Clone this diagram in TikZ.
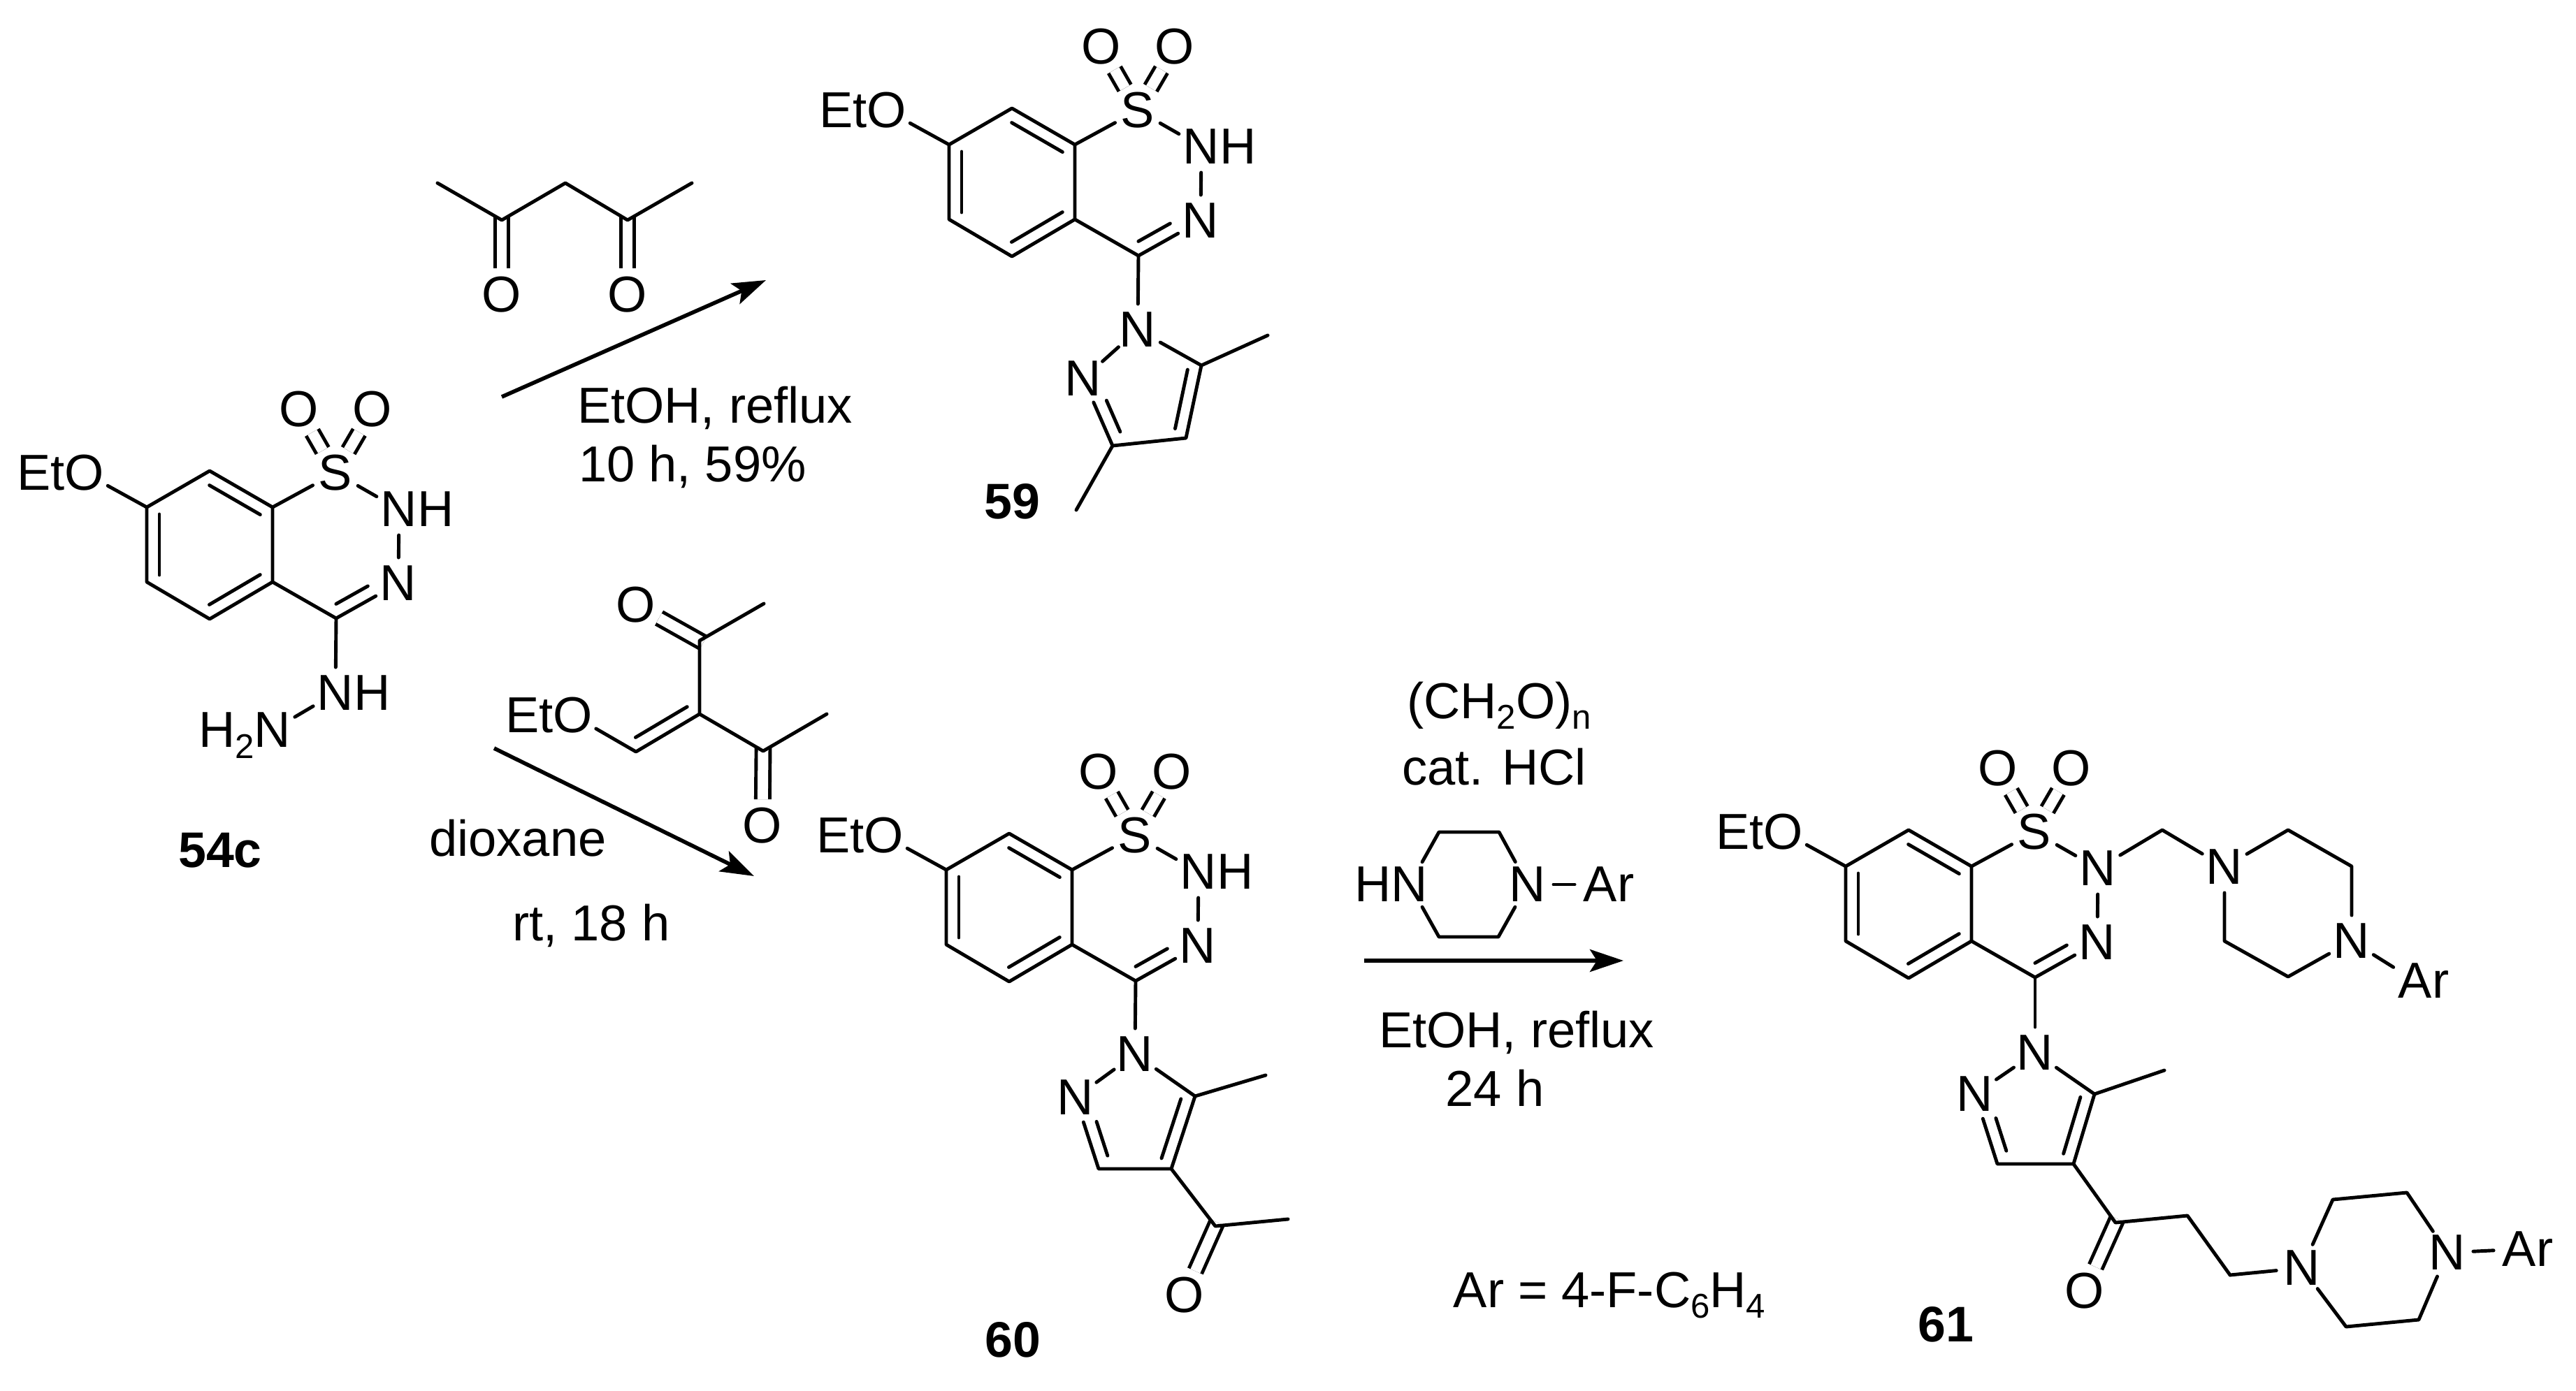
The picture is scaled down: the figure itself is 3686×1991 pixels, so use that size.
\documentclass[tikz,border=0pt]{standalone}
\usepackage{fontspec}
\setmainfont{Liberation Sans}
\usetikzlibrary{calc,arrows.meta}

\newcommand{\low}[1]{\smash{\raisebox{-2.2pt}{\fontsize{7}{8}\selectfont #1}}}

% second line of a double bond, on the left of the way from #2 to #3
\newcommand{\innerbond}[3][]{%
\draw[shorten <=0.05cm,shorten >=0.05cm,#1] ($(#2)!0.09cm!90:(#3)$)--($(#3)!0.09cm!-90:(#2)$);}

% the ring system that all four products share
\newcommand{\ringsystem}[4]{%
\begin{scope}[shift={(#2,#3)},name prefix=#1]
\coordinate (Ca) at (-180,0);
\coordinate (Cb) at (-90,-52);
\coordinate (Cc) at (0,0);
\coordinate (Cd) at (0,107);
\coordinate (Ce) at (-90,160);
\coordinate (Cf) at (-180,107);
\coordinate (C4) at (91,159);
\node[atom] (S) at (90,-49) {S};
\node[atom] (N2) at (181,3) {#4};
\node[atom] (N3) at (180,109) {N};
\node[atom] (O1) at (38,-140) {O};
\node[atom] (O2) at (143,-140) {O};
\node[atom] (OEt) at (-269,-49) {\llap{Et}O};
\draw (Ca)--(Cb)--(Cc)--(Cd)--(Ce)--(Cf)--cycle;
\innerbond{Ca}{Cf}
\innerbond{Ce}{Cd}
\innerbond{Cc}{Cb}
\draw (Cc)--(S);
\draw (S)--(N2);
\draw (N2)--(N3);
\draw (N3)--(C4);
\innerbond[shorten >=0.2cm]{C4}{N3}
\draw (C4)--(Cd);
\draw (OEt)--(Ca);
\draw[dblbond] (S)--(O1);
\draw[dblbond] (S)--(O2);
\end{scope}}

\tikzset{
atom/.style={circle,inner sep=0pt,outer sep=0pt,minimum size=0.37cm},
txt/.style={inner sep=0pt,outer sep=0pt,anchor=base},
cmpd/.style={txt,font=\fontsize{10.2}{12}\selectfont\bfseries},
dblbond/.style={double,double distance=0.075cm,line cap=butt},
ketobond/.style={dblbond,shorten <=-0.03cm},
rxn/.style={-{Stealth[length=0.24cm,width=0.16cm,inset=0.05cm]},line width=0.8pt,line cap=butt}
}

\begin{document}
\begin{tikzpicture}[x=0.005cm,y=-0.005cm,line width=0.7pt,line cap=round,line join=round,font=\fontsize{10.3}{12}\selectfont]
\useasboundingbox (0,0) rectangle (3686,1991);

% 54c
\ringsystem{a}{390}{726}{N\rlap{H}}
\node[atom] (aNH) at (480,992) {N\rlap{H}};
\node[atom] (aNHH) at (390,1045) {\llap{\smash{H\low{2}}}N};
\draw (aC4)--(aNH);
\draw (aNH)--(aNHH);
\node[cmpd] (a54) at (315,1241) {54c};

% 59
\ringsystem{b}{1538}{207}{N\rlap{H}}
\node[atom] (bPz1) at (1628,472) {N};
\node[atom] (bPz2) at (1550,542) {N};
\coordinate (bPz5) at (1719,523);
\coordinate (bPz4) at (1697,627);
\coordinate (bPz3) at (1592,638);
\coordinate (bMe5) at (1814,480);
\coordinate (bMe3) at (1540,730);
\draw (bC4)--(bPz1);
\draw (bPz1)--(bPz2);
\draw (bPz2)--(bPz3)--(bPz4)--(bPz5)--(bPz1);
\innerbond{bPz4}{bPz5}
\innerbond[shorten <=0.21cm,shorten >=0.07cm]{bPz2}{bPz3}
\draw (bPz5)--(bMe5);
\draw (bPz3)--(bMe3);
\node[cmpd] (b59) at (1448,742) {59};

% 60
\ringsystem{c}{1534}{1245}{N\rlap{H}}
\node[atom] (cPz1) at (1624,1509) {N};
\node[atom] (cPz2) at (1539,1571) {N};
\node[atom] (cO) at (1695,1854) {O};
\coordinate (cPz5) at (1710,1569);
\coordinate (cPz4) at (1676,1673);
\coordinate (cPz3) at (1572,1673);
\coordinate (cMe5) at (1811,1539);
\coordinate (cCO) at (1739,1755);
\coordinate (cMe) at (1843,1745);
\draw[ketobond] (cCO)--(cO);
\draw (cC4)--(cPz1);
\draw (cPz1)--(cPz2);
\draw (cPz2)--(cPz3)--(cPz4)--(cPz5)--(cPz1);
\innerbond{cPz4}{cPz5}
\innerbond[shorten <=0.21cm,shorten >=0.07cm]{cPz2}{cPz3}
\draw (cPz5)--(cMe5);
\draw (cPz4)--(cCO)--(cMe);
\node[cmpd] (c60) at (1449,1942) {60};

% 61
\ringsystem{d}{2821}{1240}{N}
\node[atom] (dPz1) at (2912,1507) {N};
\node[atom] (dPz2) at (2826,1566) {N};
\node[atom] (dO) at (2983,1848) {O};
\coordinate (dPz5) at (2997,1566);
\coordinate (dPz4) at (2967,1666);
\coordinate (dPz3) at (2858,1666);
\coordinate (dMe5) at (3097,1532);
\coordinate (dCO) at (3027,1750);
\coordinate (dCH2a) at (3130,1740);
\coordinate (dCH2b) at (3191,1825);
\draw[ketobond] (dCO)--(dO);
\draw (dC4)--(dPz1);
\draw (dPz1)--(dPz2);
\draw (dPz2)--(dPz3)--(dPz4)--(dPz5)--(dPz1);
\innerbond{dPz4}{dPz5}
\innerbond[shorten <=0.21cm,shorten >=0.07cm]{dPz2}{dPz3}
\draw (dPz5)--(dMe5);
\draw (dPz4)--(dCO)--(dCH2a)--(dCH2b);
% piperazine on the chain
\node[atom] (eN1) at (3294,1815) {N};
\node[atom] (eN4) at (3502,1793) {N};
\node[atom] (eAr) at (3605,1788) {A\rlap{r}};
\coordinate (eC2) at (3338,1717);
\coordinate (eC3) at (3444,1707);
\coordinate (eC5) at (3461,1889);
\coordinate (eC6) at (3357,1899);
\draw (dCH2b)--(eN1);
\draw (eN1)--(eC2)--(eC3)--(eN4);
\draw (eN4)--(eC5)--(eC6)--(eN1);
\draw (eN4)--(eAr);
% piperazine on the ring nitrogen
\coordinate (fCH2) at (3094,1188);
\node[atom] (fN1) at (3183,1241) {N};
\node[atom] (fN4) at (3365,1347) {N};
\node[atom] (fAr) at (3456,1404) {A\rlap{r}};
\coordinate (fC2) at (3274,1188);
\coordinate (fC3) at (3365,1240);
\coordinate (fC5) at (3274,1398);
\coordinate (fC6) at (3183,1347);
\draw (dN2)--(fCH2)--(fN1);
\draw (fN1)--(fC2)--(fC3)--(fN4);
\draw (fN4)--(fC5)--(fC6)--(fN1);
\draw (fN4)--(fAr);
\node[cmpd] (d61) at (2784,1920) {61};

% acetylacetone
\coordinate (gMe1) at (626,262);
\coordinate (gC2) at (718,315);
\coordinate (gC3) at (809,262);
\coordinate (gC4) at (898,315);
\coordinate (gMe5) at (990,262);
\node[atom] (gO1) at (718,422) {O};
\node[atom] (gO2) at (898,422) {O};
\draw[ketobond] (gC2)--(gO1);
\draw[ketobond] (gC4)--(gO2);
\draw (gMe1)--(gC2)--(gC3)--(gC4)--(gMe5);

% ethoxymethylene reagent
\node[atom] (hO1) at (910,866) {O};
\node[atom] (hO2) at (1091,1182) {O};
\node[atom] (hOEt) at (820,1024) {\llap{Et}O};
\coordinate (hC1) at (1001,917);
\coordinate (hMe1) at (1093,864);
\coordinate (hC2) at (1001,1022);
\coordinate (hCH) at (910,1076);
\coordinate (hC3) at (1092,1075);
\coordinate (hMe3) at (1183,1022);
\draw[ketobond] (hC1)--(hO1);
\draw[ketobond] (hC3)--(hO2);
\draw (hMe1)--(hC1)--(hC2)--(hC3)--(hMe3);
\draw (hOEt)--(hCH)--(hC2);
\innerbond{hCH}{hC2}

% piperazine over the third arrow
\node[atom] (iN1) at (2017,1266) {\llap{H}N};
\node[atom] (iN4) at (2186,1266) {N};
\node[atom] (iAr) at (2290,1266) {A\rlap{r}};
\coordinate (iC2) at (2059,1191);
\coordinate (iC3) at (2145,1191);
\coordinate (iC5) at (2144,1341);
\coordinate (iC6) at (2059,1341);
\draw (iN1)--(iC2)--(iC3)--(iN4);
\draw (iN4)--(iC5)--(iC6)--(iN1);
\draw (iN4)--(iAr);

% arrows
\coordinate (r1a) at (718,568);
\coordinate (r1b) at (1096,401);
\coordinate (r2a) at (707,1071);
\coordinate (r2b) at (1079,1254);
\coordinate (r3a) at (1952,1375);
\coordinate (r3b) at (2323,1375);
\draw[rxn] (r1a)--(r1b);
\draw[rxn] (r2a)--(r2b);
\draw[rxn] (r3a)--(r3b);

% conditions
\node[txt,anchor=base west] (t1) at (826,605) {EtOH, reflux};
\node[txt,anchor=base west] (t2) at (828,689) {10 h, 59\%};
\node[txt] (t3) at (741,1225) {dioxane};
\node[txt] (t4) at (846,1346) {rt, 18 h};
\node[txt] (t5) at (2145,1028) {(CH\low{2}O)\low{n}};
\node[txt] (t6) at (2138,1123) {cat. HCl};
\node[txt] (t7) at (2170,1499) {EtOH, reflux};
\node[txt] (t8) at (2139,1583) {24 h};
\node[txt] (t9) at (2303,1871) {Ar = 4-F-C\low{6}H\low{4}};
\end{tikzpicture}
\end{document}
